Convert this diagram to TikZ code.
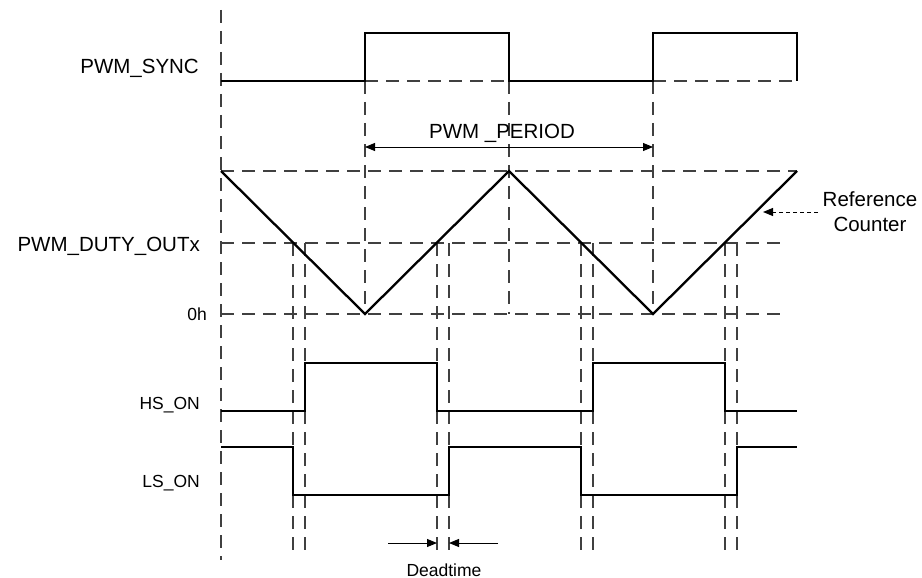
\documentclass[tikz,border=0pt]{standalone}
\usepackage{fontspec}
\setmainfont{Liberation Sans}
\usetikzlibrary{arrows.meta}
\begin{document}
\begin{tikzpicture}[x=1pt,y=-1pt,
  guide/.style={draw=black!75,line width=1.1pt,dash pattern=on 13pt off 8pt},
  sig/.style={draw=black,line width=2.3pt,line join=miter},
  dim/.style={draw=black,line width=1pt,-{Triangle[length=10pt,width=8pt]}},
  bigtxt/.style={inner sep=0pt,font=\fontsize{20.5}{24}\selectfont},
  smalltxt/.style={inner sep=0pt,font=\fontsize{17.5}{21}\selectfont}]
\useasboundingbox (0,0) rectangle (922,578);
% guide lines
\draw[guide] (221,10) -- (221,560);
\draw[guide] (365,81) -- (365,314);
\draw[guide] (509,81) -- (509,314);
\draw[guide] (653,81) -- (653,314);
\draw[guide] (365,81) -- (509,81);
\draw[guide] (653,81) -- (797,81);
\draw[guide] (221,171) -- (797,171);
\draw[guide] (221,243) -- (785,243);
\draw[guide] (221,314) -- (785,314);
\foreach \x in {293,305,437,449,581,593,725,737}
  \draw[guide] (\x,243) -- (\x,552);
% signals
\draw[sig] (221,81) -- (365,81) -- (365,33) -- (509,33) -- (509,81) -- (653,81) -- (653,33) -- (797,33) -- (797,81);
\draw[sig] (221,171) -- (365,314) -- (509,171) -- (653,314) -- (797,171);
\draw[sig] (221,411) -- (305,411) -- (305,363) -- (437,363) -- (437,411) -- (593,411) -- (593,363) -- (725,363) -- (725,411) -- (797,411);
\draw[sig] (221,447) -- (293,447) -- (293,495) -- (449,495) -- (449,447) -- (581,447) -- (581,495) -- (737,495) -- (737,447) -- (797,447);
% labels
\node[bigtxt,anchor=base east] (sync) at (199,73.3) {PWM\_SYNC};
\node[bigtxt,anchor=base east] (duty) at (200,251.5) {PWM\_DUTY\_OUTx};
\node[smalltxt,anchor=base east] (zero) at (207,320.7) {0h};
\node[smalltxt,anchor=base east] (hs) at (200,409) {HS\_ON};
\node[smalltxt,anchor=base east] (ls) at (200,487) {LS\_ON};
\node[bigtxt,anchor=base] (period) at (502,139) {PWM \_PERIOD};
\node[smalltxt,anchor=base] (dead) at (444,576) {Deadtime};
\node[bigtxt,anchor=base] (ref1) at (870,206) {Reference};
\node[bigtxt,anchor=base] (ref2) at (870,231) {Counter};
% dimension arrows
\coordinate (pl) at (365,147);
\coordinate (pr) at (653,147);
\draw[dim,{Triangle[length=10pt,width=8pt]}-{Triangle[length=10pt,width=8pt]}] (pl) -- (pr);
\coordinate (dl0) at (388,543);
\coordinate (dl1) at (437,543);
\coordinate (dr0) at (498,543);
\coordinate (dr1) at (449,543);
\draw[dim] (dl0) -- (dl1);
\draw[dim] (dr0) -- (dr1);
\coordinate (rs) at (818,212);
\coordinate (rt) at (763,212);
\draw[dim,dash pattern=on 4pt off 3pt] (rs) -- (rt);
\end{tikzpicture}
\end{document}
